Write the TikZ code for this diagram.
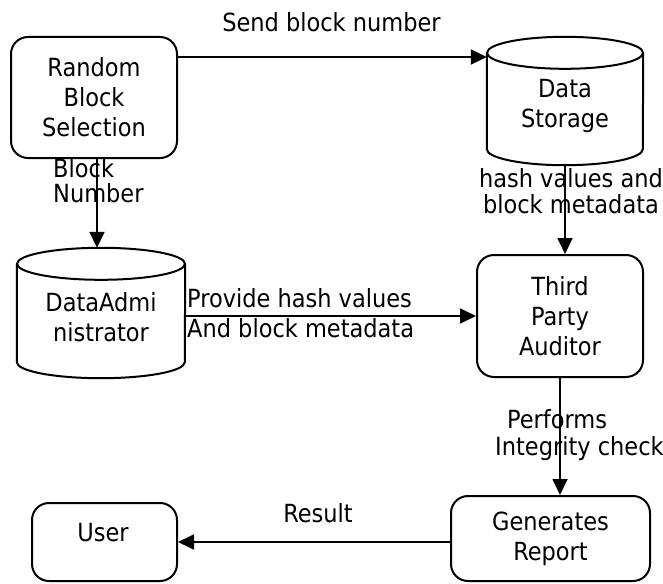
\documentclass[tikz,border=0pt]{standalone}
\usepackage{fontspec}
\setmainfont{DejaVu Sans Condensed}
\usetikzlibrary{arrows.meta,calc}
\tikzset{
  txt/.style={font=\fontsize{25}{30}\selectfont, inner sep=0pt, align=center},
  proc/.style={txt, draw, line width=2pt, rounded corners=17pt},
  drumframe/.style={inner sep=0pt, draw=none},
  drumline/.style={line width=2pt},
  flow/.style={line width=1.8pt, -{Triangle[length=16pt,width=15pt]}},
  lbl/.style={font=\fontsize{25}{26}\selectfont, inner sep=0pt},
}
% vertical drum around node #1; #2 = half width in pt
\newcommand{\drawdrum}[2]{%
  \draw[drumline] ($(#1.north west)+(0,16)$) -- ($(#1.south west)+(0,-16)$)
    arc[start angle=180,end angle=360,x radius=#2pt,y radius=16pt]
    -- ($(#1.north east)+(0,16)$);
  \draw[drumline] ($(#1.north)+(0,16)$) ellipse[x radius=#2pt,y radius=16pt];
}
\begin{document}
\begin{tikzpicture}[x=1pt,y=-1pt]
\useasboundingbox (0,0) rectangle (663,583);

% process boxes
\node[proc, minimum width=166pt, minimum height=121pt] (rbs) at (94,97.5) {Random\\Block\\Selection};
\node[proc, minimum width=166pt, minimum height=122pt] (tpa) at (560,316) {Third\\Party\\Auditor};
\node[proc, minimum width=199pt, minimum height=85pt] (gr) at (550.5,538.5) {Generates\\Report};
\node[proc, minimum width=145pt, minimum height=78pt] (user) at (104.5,542) {};
\node[txt] (usert) at (103,533) {User};

% data stores
\node[drumframe, minimum width=156pt, minimum height=128pt] (ds) at (565,101) {};
\drawdrum{ds}{78}
\node[txt] (dst) at (565,106) {Data\\Storage};
\node[drumframe, minimum width=168pt, minimum height=130pt] (da) at (101,313) {};
\drawdrum{da}{84}
\node[txt] (dat) at (101,317.5) {DataAdmi\\nistrator};

% connectors
\path (rbs.north east) ++(0,21) coordinate (c1);
\draw[flow] (c1) -- (c1 -| ds.west);
\draw[flow] ([xshift=3pt]rbs.south) -- ([xshift=3pt]rbs.south |- da.north);
\draw[flow] (ds.south) -- (ds.south |- tpa.north);
\draw[flow] ([yshift=-3pt]da.east) -- ([yshift=-3pt]da.east -| tpa.west);
\draw[flow] (tpa.south) -- (tpa.south |- gr.north);
\draw[flow] ([yshift=-3.5pt]gr.west) -- ([yshift=-3.5pt]gr.west -| user.east);

% connector labels
\node[lbl, anchor=base] (l1) at (331.5,32) {Send block number};
\node[lbl, anchor=base west] (l2a) at (53,177) {Block};
\node[lbl, anchor=base west] (l2b) at (53,202) {Number};
\node[lbl, anchor=base] (l3a) at (571,187) {hash values and};
\node[lbl, anchor=base] (l3b) at (571,213) {block metadata};
\node[lbl, anchor=base west] (l4a) at (187,307) {Provide hash values};
\node[lbl, anchor=base west] (l4b) at (187,337) {And block metadata};
\node[lbl, anchor=base west] (l5a) at (507,428) {Performs};
\node[lbl, anchor=base west] (l5b) at (495,455) {Integrity check};
\node[lbl, anchor=base] (l6) at (318,522) {Result};
\end{tikzpicture}
\end{document}
